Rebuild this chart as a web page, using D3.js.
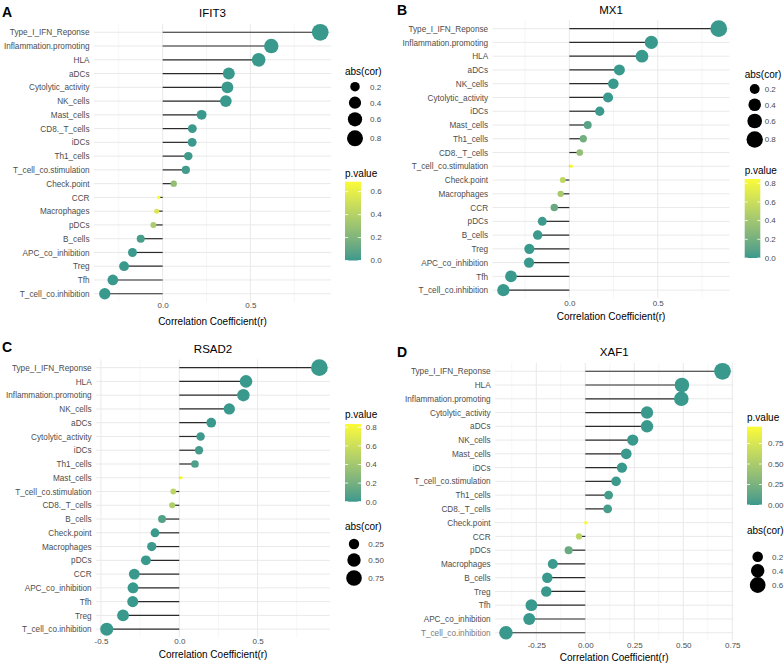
<!DOCTYPE html>
<html><head><meta charset="utf-8">
<script src="https://cdn.jsdelivr.net/npm/d3@7"></script>
<style>
body{margin:0;background:#fff}
svg{display:block}
text{font-family:"Liberation Sans",Arial,Helvetica,sans-serif}
</style>
</head><body>
<svg id="chart" width="784" height="666"></svg>
<script>
// ---------------- DATA ----------------
const categoriesA = ["Type_I_IFN_Reponse","Inflammation.promoting","HLA","aDCs","Cytolytic_activity","NK_cells","Mast_cells","CD8._T_cells","iDCs","Th1_cells","T_cell_co.stimulation","Check.point","CCR","Macrophages","pDCs","B_cells","APC_co_inhibition","Treg","Tfh","T_cell_co.inhibition"];
const corA = [0.898,0.619,0.547,0.377,0.369,0.360,0.222,0.169,0.168,0.146,0.132,0.063,-0.023,-0.034,-0.053,-0.125,-0.172,-0.220,-0.284,-0.330];
const pA   = [0,0,0,0,0,0,0.0001,0.003,0.003,0.01,0.02,0.27,0.687,0.55,0.36,0.03,0.002,0.0001,0,0];

const categoriesB = ["Type_I_IFN_Reponse","Inflammation.promoting","HLA","aDCs","NK_cells","Cytolytic_activity","iDCs","Mast_cells","Th1_cells","CD8._T_cells","T_cell_co.stimulation","Check.point","Macrophages","CCR","pDCs","B_cells","Treg","APC_co_inhibition","Tfh","T_cell_co.inhibition"];
const corB = [0.845,0.464,0.411,0.283,0.249,0.219,0.172,0.104,0.079,0.059,0.011,-0.037,-0.049,-0.085,-0.153,-0.179,-0.226,-0.228,-0.330,-0.373];
const pB   = [0,0,0,0,0,0.0001,0.003,0.09,0.19,0.33,0.845,0.54,0.43,0.15,0.007,0.002,0,0,0,0];

const categoriesC = ["Type_I_IFN_Reponse","HLA","Inflammation.promoting","NK_cells","aDCs","Cytolytic_activity","iDCs","Th1_cells","Mast_cells","T_cell_co.stimulation","CD8._T_cells","B_cells","Check.point","Macrophages","pDCs","CCR","APC_co_inhibition","Tfh","Treg","T_cell_co.inhibition"];
const corC = [0.894,0.426,0.409,0.319,0.204,0.136,0.126,0.100,0.011,-0.038,-0.045,-0.110,-0.155,-0.176,-0.213,-0.287,-0.295,-0.297,-0.359,-0.463];
const pC   = [0,0,0,0,0.0003,0.01,0.02,0.06,0.835,0.52,0.46,0.07,0.006,0.002,0.0002,0,0,0,0,0];

const categoriesD = ["Type_I_IFN_Reponse","HLA","Inflammation.promoting","Cytolytic_activity","aDCs","NK_cells","Mast_cells","iDCs","T_cell_co.stimulation","Th1_cells","CD8._T_cells","Check.point","CCR","pDCs","Macrophages","B_cells","Treg","Tfh","APC_co_inhibition","T_cell_co.inhibition"];
const corD = [0.700,0.493,0.490,0.315,0.315,0.242,0.209,0.187,0.157,0.119,0.114,0.003,-0.032,-0.085,-0.166,-0.194,-0.199,-0.275,-0.286,-0.405];
const pD   = [0,0,0,0,0,0,0.0003,0.001,0.006,0.03,0.04,0.955,0.6,0.17,0.004,0.0006,0.0005,0,0,0];

const titles = ["IFIT3","MX1","RSAD2","XAF1"];
const panelLabels = ["A","B","C","D"];

const majorTicksA = [0,0.5],  tickLabelsA = ["0.0","0.5"],  minorTicksA = [-0.25,0.25,0.75];
const majorTicksB = [0,0.5],  tickLabelsB = ["0.0","0.5"],  minorTicksB = [-0.25,0.25,0.75];
const majorTicksC = [-0.5,0,0.5], tickLabelsC = ["-0.5","0.0","0.5"], minorTicksC = [-0.25,0.25,0.75];
const majorTicksD = [-0.25,0,0.25,0.5,0.75], tickLabelsD = ["-0.25","0.00","0.25","0.50","0.75"], minorTicksD = [-0.375,-0.125,0.125,0.375,0.625];

const sizeBreaksA = [0.2,0.4,0.6,0.8], sizeLabelsA = ["0.2","0.4","0.6","0.8"];
const sizeBreaksB = [0.2,0.4,0.6,0.8], sizeLabelsB = ["0.2","0.4","0.6","0.8"];
const sizeBreaksC = [0.25,0.5,0.75],   sizeLabelsC = ["0.25","0.50","0.75"];
const sizeBreaksD = [0.2,0.4,0.6],     sizeLabelsD = ["0.2","0.4","0.6"];

const pBreaksA = [0,0.2,0.4,0.6],     pLabelsA = ["0.0","0.2","0.4","0.6"];
const pBreaksB = [0,0.2,0.4,0.6,0.8], pLabelsB = ["0.0","0.2","0.4","0.6","0.8"];
const pBreaksC = [0,0.2,0.4,0.6,0.8], pLabelsC = ["0.0","0.2","0.4","0.6","0.8"];
const pBreaksD = [0,0.25,0.5,0.75],   pLabelsD = ["0.00","0.25","0.50","0.75"];

const axisTitle = "Correlation Coefficient(r)";
const sizeTitle = "abs(cor)";
const colorTitle = "p.value";

// ---------------- LAYOUT ----------------
const lowCol = "#3a998d", highCol = "#fbfb34";
const panels = [
 {cats:categoriesA, cor:corA, p:pA, major:majorTicksA, majorLab:tickLabelsA, minor:minorTicksA,
  sb:sizeBreaksA, sl:sizeLabelsA, pb:pBreaksA, pl:pLabelsA,
  left:94, right:331, top:24.0, bottom:302.0, labX:2, labY:16.7, titleY:16.7, tickY:310.5, axTitleY:325,
  size:{x:345, titleY:71, keyX:355, keysY:[86.7,102.7,119.3,138.3], labX:370},
  col:{x:345, w:16, titleY:173.3, y0:260.5, y1:181.7, labX:370.5}},
 {cats:categoriesB, cor:corB, p:pB, major:majorTicksB, majorLab:tickLabelsB, minor:minorTicksB,
  sb:sizeBreaksB, sl:sizeLabelsB, pb:pBreaksB, pl:pLabelsB,
  left:492.6, right:729.5, top:20.4, bottom:298.4, labX:397, labY:15, titleY:13.5, tickY:308, axTitleY:320,
  size:{x:744.7, titleY:74, keyX:754.7, keysY:[89,104.7,121,139.5], labX:764.7},
  col:{x:744.7, w:15.6, titleY:170.7, y0:258, y1:179, labX:764.7}},
 {cats:categoriesC, cor:corC, p:pC, major:majorTicksC, majorLab:tickLabelsC, minor:minorTicksC,
  sb:sizeBreaksC, sl:sizeLabelsC, pb:pBreaksC, pl:pLabelsC,
  left:96.1, right:330, top:359.4, bottom:637.4, labX:2, labY:351.7, titleY:352.7, tickY:646.7, axTitleY:658,
  size:{x:345, titleY:526.7, keyX:354, keysY:[544,560,578], labX:368.3},
  col:{x:345, w:16, titleY:414, y0:501.7, y1:424, labX:365.7}},
 {cats:categoriesD, cor:corD, p:pD, major:majorTicksD, majorLab:tickLabelsD, minor:minorTicksD,
  sb:sizeBreaksD, sl:sizeLabelsD, pb:pBreaksD, pl:pLabelsD,
  left:495.1, right:733.3, top:363.0, bottom:641.0, labX:397, labY:357.3, titleY:356, tickY:650.5, axTitleY:661,
  size:{x:747, titleY:530, keyX:757.7, keysY:[556.7,570.7,585], labX:772},
  col:{x:747, w:15, titleY:417.7, y0:505, y1:426.7, labX:768}}
];

const svg = d3.select("#chart");
const gridCol = "#e9e9e9";

panels.forEach((P, i) => {
  const g = svg.append("g");
  const ext = d3.extent(P.cor);
  const pad = (ext[1]-ext[0])*0.05;
  const x = d3.scaleLinear().domain([ext[0]-pad, ext[1]+pad]).range([P.left, P.right]);
  const y = d3.scalePoint().domain(P.cats).range([P.top, P.bottom]).padding(0.6);
  const absExt = d3.extent(P.cor.map(Math.abs));
  const t = d3.scaleLinear().domain(absExt).range([0,1]).clamp(true);
  const sizeMM = d3.scaleLinear().domain([0,1]).range([1,6]);
  const rad = v => 0.93*(sizeMM(Math.sqrt(t(v)))*2.845 + 0.945)/2;
  const pExt = d3.extent(P.p);
  const color = d3.scaleLinear().domain(pExt).range([lowCol, highCol]).interpolate(d3.interpolateLab);

  // grid
  g.selectAll(".minor").data(P.minor).join("line")
    .attr("x1", d=>x(d)).attr("x2", d=>x(d)).attr("y1", P.top).attr("y2", P.bottom)
    .attr("stroke", "#f0f0f0").attr("stroke-width", 0.6);
  g.selectAll(".major").data(P.major).join("line")
    .attr("x1", d=>x(d)).attr("x2", d=>x(d)).attr("y1", P.top).attr("y2", P.bottom)
    .attr("stroke", gridCol).attr("stroke-width", 1);
  g.selectAll(".hgrid").data(P.cats).join("line")
    .attr("x1", P.left).attr("x2", P.right).attr("y1", d=>y(d)).attr("y2", d=>y(d))
    .attr("stroke", gridCol).attr("stroke-width", 1);

  const data = P.cats.map((c, k) => ({cat:c, r:P.cor[k], p:P.p[k]}));
  // segments
  g.selectAll(".seg").data(data).join("line")
    .attr("x1", x(0)).attr("x2", d=>x(d.r)).attr("y1", d=>y(d.cat)).attr("y2", d=>y(d.cat))
    .attr("stroke", "#2b2b2b").attr("stroke-width", 1.2);
  // points
  g.selectAll(".pt").data(data).join("circle")
    .attr("cx", d=>x(d.r)).attr("cy", d=>y(d.cat)).attr("r", d=>rad(Math.abs(d.r)))
    .attr("fill", d=>color(d.p));

  // y axis
  const ya = g.append("g").attr("transform", `translate(${P.left},0)`)
    .call(d3.axisLeft(y).tickSize(0).tickPadding(4.5));
  ya.select(".domain").remove();
  ya.selectAll("text").attr("font-size", 8.2).attr("fill", "#4d4d4d")
    .style("font-family", '"Liberation Sans",Arial,sans-serif');
  if (i === 3) ya.selectAll("text").filter(d => d === "T_cell_co.inhibition").attr("fill", "#7a7a7a");

  // x axis
  const xa = g.append("g").attr("transform", `translate(0,${P.tickY - 8})`)
    .call(d3.axisBottom(x).tickValues(P.major).tickFormat((d,k)=>P.majorLab[k]).tickSize(0).tickPadding(0));
  xa.select(".domain").remove();
  xa.selectAll("text").attr("font-size", 8).attr("fill", "#4d4d4d").attr("dy", "0.71em")
    .style("font-family", '"Liberation Sans",Arial,sans-serif');

  // titles
  g.append("text").attr("x", (P.left+P.right)/2).attr("y", P.axTitleY).attr("text-anchor","middle")
    .attr("font-size", 10).attr("fill","#000").text(axisTitle);
  g.append("text").attr("x", (P.left+P.right)/2).attr("y", P.titleY).attr("text-anchor","middle")
    .attr("font-size", 11.5).attr("fill","#000").text(titles[i]);
  g.append("text").attr("x", P.labX).attr("y", P.labY).attr("font-size", 14).attr("font-weight","bold")
    .attr("fill","#000").text(panelLabels[i]);

  // size legend
  const S = P.size;
  g.append("text").attr("x", S.x).attr("y", S.titleY).attr("dy","0.35em").attr("font-size",10).text(sizeTitle);
  g.selectAll(".sk").data(P.sb).join("circle")
    .attr("cx", S.keyX).attr("cy", (d,k)=>S.keysY[k]).attr("r", d=>rad(d)).attr("fill","#000");
  g.selectAll(".sl").data(P.sl).join("text")
    .attr("x", S.labX).attr("y", (d,k)=>S.keysY[k]).attr("dy","0.35em")
    .attr("font-size",8).attr("fill","#4d4d4d").text(d=>d);

  // color legend
  const C = P.col;
  const cy = d3.scaleLinear().domain(pExt).range([C.y0, C.y1]);
  g.append("text").attr("x", C.x).attr("y", C.titleY).attr("dy","0.35em").attr("font-size",10).text(colorTitle);
  const gid = "grad" + i;
  const grad = svg.append("defs").append("linearGradient").attr("id", gid)
    .attr("x1",0).attr("x2",0).attr("y1",1).attr("y2",0);
  d3.range(0, 1.0001, 0.05).forEach(f => {
    grad.append("stop").attr("offset", f).attr("stop-color", color(pExt[0] + f*(pExt[1]-pExt[0])));
  });
  g.append("rect").attr("x", C.x).attr("y", cy(pExt[1])).attr("width", C.w)
    .attr("height", cy(pExt[0]) - cy(pExt[1])).attr("fill", `url(#${gid})`);
  g.selectAll(".ctl").data(P.pb).join("line")
    .attr("x1", C.x).attr("x2", C.x + C.w*0.2).attr("y1", d=>cy(d)).attr("y2", d=>cy(d))
    .attr("stroke","#fff").attr("stroke-width",0.8);
  g.selectAll(".ctr").data(P.pb).join("line")
    .attr("x1", C.x + C.w*0.8).attr("x2", C.x + C.w).attr("y1", d=>cy(d)).attr("y2", d=>cy(d))
    .attr("stroke","#fff").attr("stroke-width",0.8);
  g.selectAll(".cl").data(P.pl).join("text")
    .attr("x", C.labX).attr("y", (d,k)=>cy(P.pb[k])).attr("dy","0.35em")
    .attr("font-size",8).attr("fill","#4d4d4d").text(d=>d);
});
</script>
</body></html>
